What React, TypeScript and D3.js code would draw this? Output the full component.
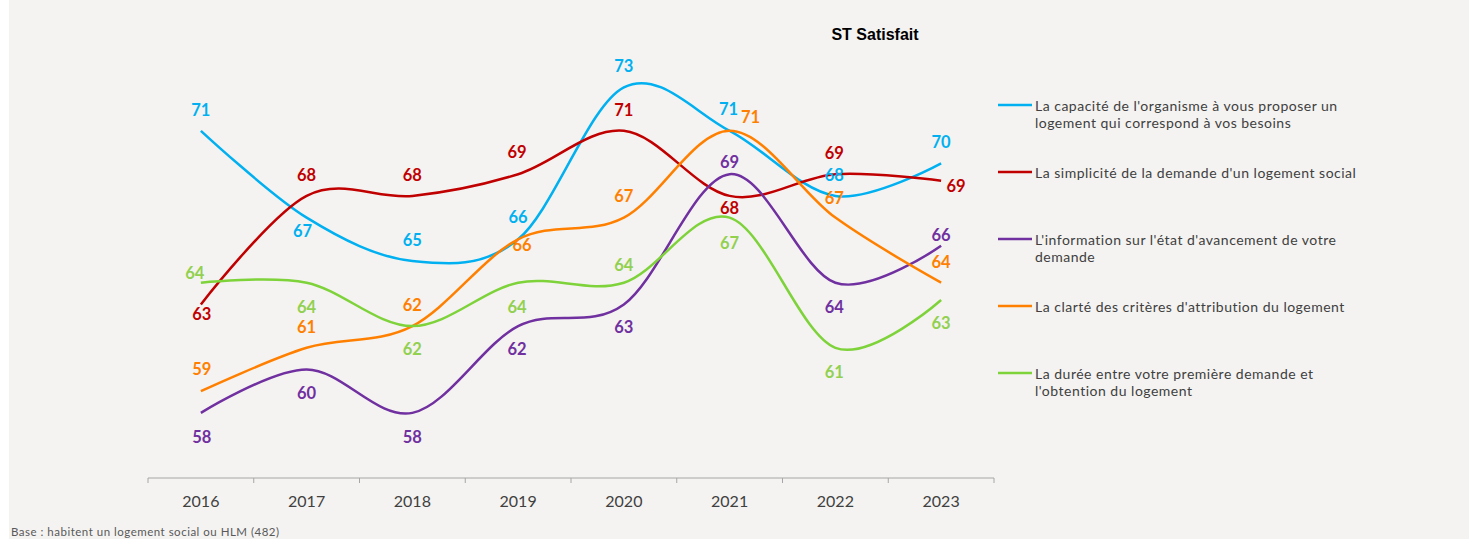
import React from "react";
import * as d3 from "d3";

// years on the x axis
const years = ["2016", "2017", "2018", "2019", "2020", "2021", "2022", "2023"];

// values (labels show them rounded)
const capacite = [71, 67, 65, 66, 73, 71, 68, 69.5];
const simplicite = [63, 68, 68, 69, 71, 68, 69, 68.7];
const information = [58, 60, 58, 62, 63, 69, 64, 65.7];
const clarte = [59, 61, 62, 66, 67, 71, 67, 64];
const duree = [64, 64, 62, 64, 64, 67, 61, 63.2];

const seriesNames = [
	["La capacité de l'organisme à vous proposer un", "logement qui correspond à vos besoins"],
	["La simplicité de la demande d'un logement social"],
	["L'information sur l'état d'avancement de votre", "demande"],
	["La clarté des critères d'attribution du logement"],
	["La durée entre votre première demande et", "l'obtention du logement"],
];

// where each data label sits relative to its point [dx, dy]
const capaciteNudge = [[0, -21], [-4, 13], [0, -21], [0, -22], [0, -21], [-1, -22], [-1, -21], [0, -21]];
const simpliciteNudge = [[1, 10], [0, -21], [0, -21], [-1, -22], [0, -21], [0, 12], [-1, -21], [15, 5]];
const informationNudge = [[1, 24], [0, 23], [0, 24], [-1, 23], [0, 23], [0, -12], [-1, 24], [0, -11]];
const clarteNudge = [[1, -22], [0, -21], [0, -21], [4, 6], [0, -22], [21, -14], [-1, -20], [0, -21]];
const dureeNudge = [[-6, -10], [0, 24], [0, 23], [-1, 24], [0, -18], [0, 25], [-1, 24], [0, 23]];

const lineColors = ["#00b0f0", "#c00000", "#7030a0", "#ff8000", "#7ed23a"];
const labelColors = ["#00b0f0", "#c00000", "#7030a0", "#ff8000", "#92d050"];

const series = [
	{ values: capacite, nudge: capaciteNudge },
	{ values: simplicite, nudge: simpliciteNudge },
	{ values: information, nudge: informationNudge },
	{ values: clarte, nudge: clarteNudge },
	{ values: duree, nudge: dureeNudge },
];

const W = 1469;
const H = 539;

export default function App() {
	const x = d3.scaleBand().domain(years).range([148, 994]).padding(0);
	const y = d3.scaleLinear().domain([55, 75]).range([478, 44]);
	const cx = (yr: string) => (x(yr) as number) + x.bandwidth() / 2;

	const line = d3
		.line<number>()
		.x((d, i) => cx(years[i]))
		.y((d) => y(d))
		.curve(d3.curveCardinal.tension(0));

	const boundaries = years.map((yr) => x(yr) as number).concat([x.range()[1]]);

	return (
		<div style={{ position: "fixed", left: 0, top: 0 }}>
			<svg width={W} height={H} style={{ display: "block" }}>
				<rect x={0} y={0} width={W} height={H} fill="#ffffff" />
				<rect x={9} y={0} width={W - 9} height={H} fill="#f4f3f1" />

				<text
					x={875}
					y={34}
					textAnchor="middle"
					dominantBaseline="central"
					fontFamily="Liberation Sans, Arial, sans-serif"
					fontWeight="bold"
					fontSize={16}
					fill="#000"
				>
					ST Satisfait
				</text>

				{/* x axis */}
				<line x1={148} x2={994} y1={y(55)} y2={y(55)} stroke="#a6a6a6" strokeWidth={1} />
				{boundaries.map((b, i) => (
					<line key={i} x1={b} x2={b} y1={y(55)} y2={y(55) + 5} stroke="#a6a6a6" strokeWidth={1} />
				))}
				{years.map((yr) => (
					<text
						key={yr}
						x={cx(yr)}
						y={500}
						textAnchor="middle"
						dominantBaseline="central"
						fontFamily="Lato, sans-serif"
						fontSize={16}
						fill="#404040"
					>
						{yr}
					</text>
				))}

				{/* lines */}
				{series.map((s, k) => (
					<path key={k} d={line(s.values) || ""} fill="none" stroke={lineColors[k]} strokeWidth={2.5} />
				))}

				{/* data labels */}
				{series.map((s, k) =>
					s.values.map((v, i) => (
						<text
							key={k + "-" + i}
							x={cx(years[i]) + s.nudge[i][0]}
							y={y(v) + s.nudge[i][1]}
							textAnchor="middle"
							dominantBaseline="central"
							fontFamily="Lato, sans-serif"
							fontWeight="bold"
							fontSize={16.5}
							fill={labelColors[k]}
						>
							{Math.round(v)}
						</text>
					))
				)}

				{/* legend */}
				{seriesNames.map((lines, k) => {
					const ly = 105 + k * 67;
					return (
						<g key={k}>
							<line x1={998} x2={1032} y1={ly} y2={ly} stroke={lineColors[k]} strokeWidth={2.5} />
							{lines.map((t, j) => (
								<text
									key={j}
									x={1035}
									y={ly + j * 17}
									dominantBaseline="central"
									fontFamily="Lato, sans-serif"
									fontSize={14}
									letterSpacing={0.5}
									fill="#404040"
								>
									{t}
								</text>
							))}
						</g>
					);
				})}

				<text
					x={11}
					y={531}
					dominantBaseline="central"
					fontFamily="Lato, sans-serif"
					fontSize={11.5}
					letterSpacing={0.5}
					fill="#595959"
				>
					Base : habitent un logement social ou HLM (482)
				</text>
			</svg>
		</div>
	);
}
